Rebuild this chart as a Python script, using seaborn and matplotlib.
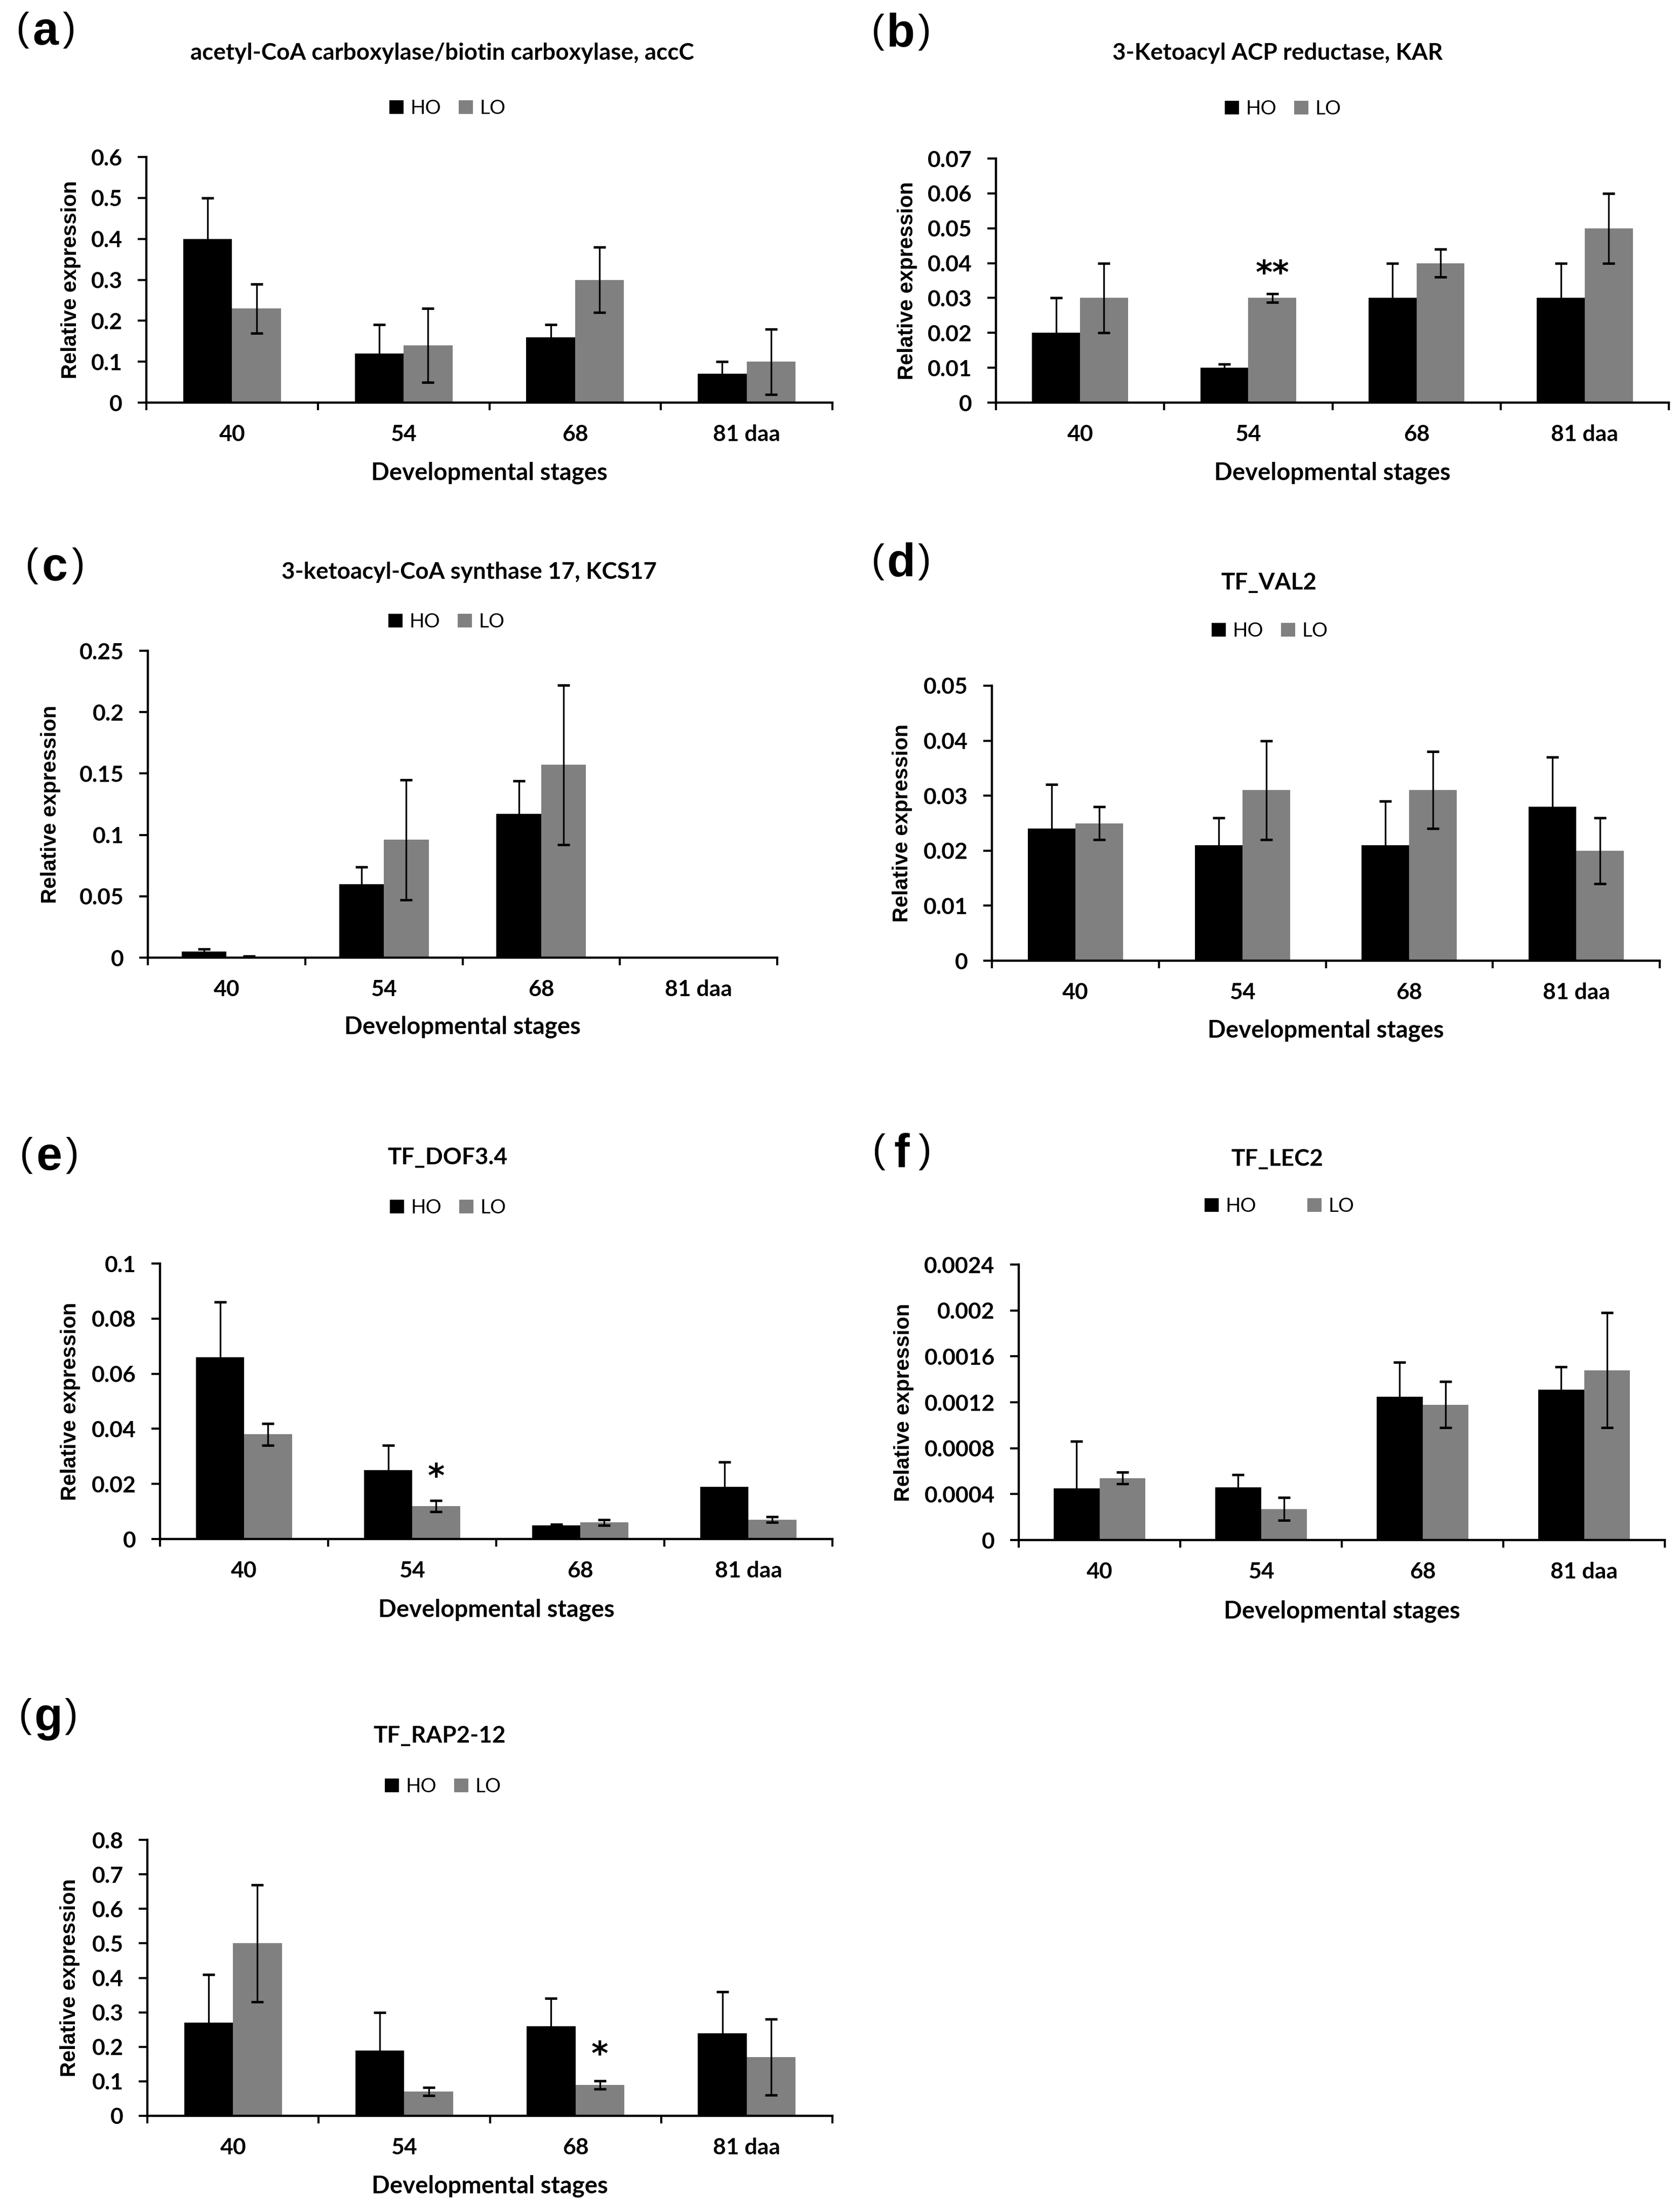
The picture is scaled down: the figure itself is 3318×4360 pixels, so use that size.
import numpy as np
import pandas as pd
import seaborn as sns
import matplotlib
matplotlib.use("Agg")
import matplotlib.pyplot as plt
from matplotlib.patches import Patch
from matplotlib.transforms import blended_transform_factory

# Shared categories
stages = ["40", "54", "68", "81 daa"]
groups = ["HO", "LO"]

# (a) accC
acc_title = "acetyl-CoA carboxylase/biotin carboxylase, accC"
acc_ho = [0.40, 0.12, 0.16, 0.07]
acc_ho_err = [0.10, 0.07, 0.03, 0.03]
acc_lo = [0.23, 0.14, 0.30, 0.10]
acc_lo_err = [0.06, 0.09, 0.08, 0.08]
acc_yticks = [0, 0.1, 0.2, 0.3, 0.4, 0.5, 0.6]

# (b) KAR
kar_title = "3-Ketoacyl ACP reductase, KAR"
kar_ho = [0.02, 0.01, 0.03, 0.03]
kar_ho_err = [0.01, 0.001, 0.01, 0.01]
kar_lo = [0.03, 0.03, 0.04, 0.05]
kar_lo_err = [0.01, 0.0012, 0.004, 0.01]
kar_yticks = [0, 0.01, 0.02, 0.03, 0.04, 0.05, 0.06, 0.07]

# (c) KCS17
kcs_title = "3-ketoacyl-CoA synthase 17, KCS17"
kcs_ho = [0.005, 0.06, 0.117, 0.0]
kcs_ho_err = [0.002, 0.014, 0.027, 0.0]
kcs_lo = [0.001, 0.096, 0.157, 0.0]
kcs_lo_err = [0.0004, 0.049, 0.065, 0.0]
kcs_yticks = [0, 0.05, 0.1, 0.15, 0.2, 0.25]

# (d) VAL2
val_title = "TF_VAL2"
val_ho = [0.024, 0.021, 0.021, 0.028]
val_ho_err = [0.008, 0.005, 0.008, 0.009]
val_lo = [0.025, 0.031, 0.031, 0.020]
val_lo_err = [0.003, 0.009, 0.007, 0.006]
val_yticks = [0, 0.01, 0.02, 0.03, 0.04, 0.05]

# (e) DOF3.4
dof_title = "TF_DOF3.4"
dof_ho = [0.066, 0.025, 0.005, 0.019]
dof_ho_err = [0.020, 0.009, 0.0003, 0.009]
dof_lo = [0.038, 0.012, 0.006, 0.007]
dof_lo_err = [0.004, 0.002, 0.001, 0.001]
dof_yticks = [0, 0.02, 0.04, 0.06, 0.08, 0.1]

# (f) LEC2
lec_title = "TF_LEC2"
lec_ho = [0.00045, 0.00046, 0.00125, 0.00131]
lec_ho_err = [0.00041, 0.00011, 0.00030, 0.00020]
lec_lo = [0.00054, 0.00027, 0.00118, 0.00148]
lec_lo_err = [0.00005, 0.00010, 0.00020, 0.00050]
lec_yticks = [0, 0.0004, 0.0008, 0.0012, 0.0016, 0.002, 0.0024]

# (g) RAP2-12
rap_title = "TF_RAP2-12"
rap_ho = [0.27, 0.19, 0.26, 0.24]
rap_ho_err = [0.14, 0.11, 0.08, 0.12]
rap_lo = [0.50, 0.07, 0.09, 0.17]
rap_lo_err = [0.17, 0.012, 0.012, 0.11]
rap_yticks = [0, 0.1, 0.2, 0.3, 0.4, 0.5, 0.6, 0.7, 0.8]

# significance marks: (stage index, height, text) on the LO bar
kar_marks = [(1, 0.0367, "**")]
dof_marks = [(1, 0.0222, "*")]
rap_marks = [(2, 0.174, "*")]

panels = [
    ("a", acc_title, acc_ho, acc_ho_err, acc_lo, acc_lo_err, acc_yticks, []),
    ("b", kar_title, kar_ho, kar_ho_err, kar_lo, kar_lo_err, kar_yticks, kar_marks),
    ("c", kcs_title, kcs_ho, kcs_ho_err, kcs_lo, kcs_lo_err, kcs_yticks, []),
    ("d", val_title, val_ho, val_ho_err, val_lo, val_lo_err, val_yticks, []),
    ("e", dof_title, dof_ho, dof_ho_err, dof_lo, dof_lo_err, dof_yticks, dof_marks),
    ("f", lec_title, lec_ho, lec_ho_err, lec_lo, lec_lo_err, lec_yticks, []),
    ("g", rap_title, rap_ho, rap_ho_err, rap_lo, rap_lo_err, rap_yticks, rap_marks),
]

# layout in pixels of the 3318x4360 canvas
# axes = (left, right, top, bottom); others are (x, y) centres
layout = {
    "a": dict(axes=(289, 1644, 310, 795), label=(90, 60), title=(873, 105), legend=(884, 214), ylab=140, xlab=934, colsp=0.9),
    "b": dict(axes=(1967, 3296, 313, 795), label=(1779, 64), title=(2523, 105), legend=(2534, 215), ylab=1792, xlab=934, colsp=0.9),
    "c": dict(axes=(292, 1535, 1285, 1891), label=(108, 1118), title=(926, 1130), legend=(882, 1228), ylab=100, xlab=2028, colsp=0.9),
    "d": dict(axes=(1959, 3278, 1354, 1897), label=(1779, 1110), title=(2506, 1151), legend=(2508, 1246), ylab=1782, xlab=2035, colsp=0.9),
    "e": dict(axes=(316, 1644, 2495, 3039), label=(97, 2282), title=(884, 2286), legend=(885, 2385), ylab=139, xlab=3179, colsp=0.9),
    "f": dict(axes=(2012, 3288, 2497, 3041), label=(1781, 2275), title=(2522, 2289), legend=(2527, 2382), ylab=1785, xlab=3182, colsp=2.6),
    "g": dict(axes=(291, 1644, 3633, 4178), label=(95, 3390), title=(868, 3428), legend=(875, 3528), ylab=138, xlab=4317, colsp=0.9),
}

colors = {"HO": "#000000", "LO": "#808080"}

sns.set_style("ticks", {"axes.edgecolor": "black", "xtick.color": "black", "ytick.color": "black",
                        "text.color": "black", "axes.labelcolor": "black"})
plt.rcParams["font.family"] = ["Lato", "DejaVu Sans"]

W, H = 3318, 4360
fig = plt.figure(figsize=(W / 100, H / 100), dpi=100)


def fx(x):
    return x / W


def fy(y):
    return 1 - y / H


for key, title, ho, ho_err, lo, lo_err, yticks, marks in panels:
    lay = layout[key]
    l, r, t, b = lay["axes"]
    ax = fig.add_axes([fx(l), fy(b), (r - l) / W, (b - t) / H])

    df = pd.DataFrame({
        "stage": stages * 2,
        "group": ["HO"] * len(stages) + ["LO"] * len(stages),
        "value": ho + lo,
    })
    sns.barplot(data=df, x="stage", y="value", hue="group", order=stages, hue_order=groups,
                palette=colors, width=0.57, saturation=1, errorbar=None, linewidth=0,
                legend=False, ax=ax)

    bars = list(ax.containers[:2])
    for cont, vals, errs in zip(bars, [ho, lo], [ho_err, lo_err]):
        xs = [bar.get_x() + bar.get_width() / 2 for bar in cont]
        keep = [i for i, e in enumerate(errs) if e > 0]
        ax.errorbar([xs[i] for i in keep], [vals[i] for i in keep],
                    yerr=[errs[i] for i in keep], fmt="none", ecolor="black",
                    elinewidth=2.4, capsize=8.3, capthick=3.5, zorder=3)

    lo_bars = bars[1]
    for idx, yv, txt in marks:
        bar = lo_bars[idx]
        ax.text(bar.get_x() + bar.get_width() / 2, yv, txt, ha="center", va="center",
                fontsize=46, fontweight="bold", family="DejaVu Sans")

    # axes style
    ax.set_ylim(0, yticks[-1])
    ax.set_yticks(yticks)
    ax.set_yticklabels([f"{v:g}" for v in yticks])
    ax.set_xlim(-0.5, len(stages) - 0.5)
    ax.set_xticks(np.arange(len(stages) + 1) - 0.5)
    ax.set_xticklabels([])
    ax.set_xticks(range(len(stages)), labels=stages, minor=True)
    ax.tick_params(axis="x", which="major", length=11, width=3, direction="out")
    ax.tick_params(axis="x", which="minor", length=0, pad=31, labelsize=32)
    ax.tick_params(axis="y", length=12, width=3, direction="out", pad=22, labelsize=32)
    for lab in ax.get_xticklabels(minor=True) + ax.get_yticklabels():
        lab.set_fontweight("bold")
    sns.despine(ax=ax)
    for side in ["left", "bottom"]:
        ax.spines[side].set_linewidth(3.2)
        ax.spines[side].set_color("black")

    ax.set_xlabel("Developmental stages", fontsize=34, fontweight="bold", va="center")
    ax.xaxis.set_label_coords(0.5, fy(lay["xlab"]),
                              transform=blended_transform_factory(ax.transAxes, fig.transFigure))
    ax.set_ylabel("Relative expression", fontsize=30, fontweight="bold", va="center",
                  family="Liberation Sans")
    ax.yaxis.set_label_coords(fx(lay["ylab"]), 0.5,
                              transform=blended_transform_factory(fig.transFigure, ax.transAxes))

    handles = [Patch(facecolor=colors[g], edgecolor="none") for g in groups]
    ax.legend(handles, groups, loc="center", bbox_to_anchor=(fx(lay["legend"][0]), fy(lay["legend"][1])),
              bbox_transform=fig.transFigure, ncol=2, frameon=False, fontsize=28,
              handlelength=0.72, handleheight=0.72, handletextpad=0.35,
              columnspacing=lay["colsp"], borderpad=0, borderaxespad=0)

    fig.text(fx(lay["title"][0]), fy(lay["title"][1]), title, ha="center", va="center",
             fontsize=33, fontweight="bold")

    # panel label: thin brackets around a bold letter
    cx, cy = lay["label"]
    fig.text(fx(cx), fy(cy + 28), key, ha="center", va="baseline",
             fontsize=66, fontweight="bold", family="Liberation Sans")
    fig.text(fx(cx - 33), fy(cy + 20), "(", ha="right", va="baseline",
             fontsize=56, family="Liberation Sans")
    fig.text(fx(cx + 33), fy(cy + 20), ")", ha="left", va="baseline",
             fontsize=56, family="Liberation Sans")

fig.savefig("out.png", dpi=100)
